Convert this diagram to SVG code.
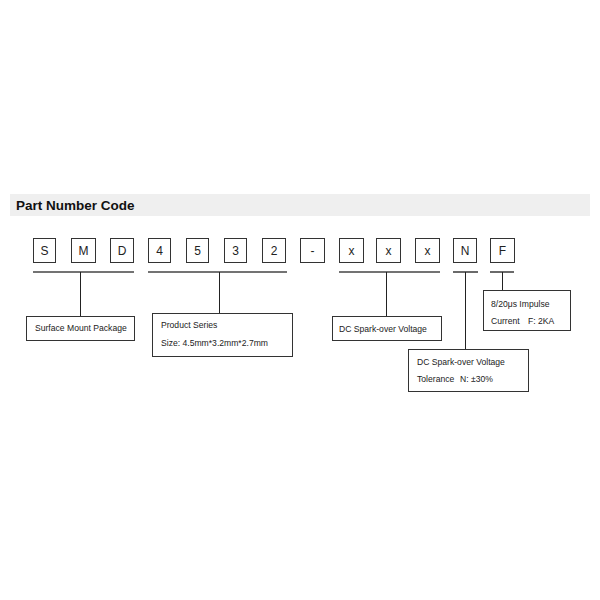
<svg xmlns="http://www.w3.org/2000/svg" width="600" height="600" viewBox="0 0 600 600">
<style>
.bx{fill:#fff;stroke:#333;stroke-width:1}
.ch{font-family:"Liberation Sans",Arial,sans-serif;font-size:12px;fill:#222;text-anchor:middle}
.t{font-family:"Liberation Sans",Arial,sans-serif;font-size:8.6px;fill:#222}
.ln{stroke:#444;stroke-width:1.6;fill:none}
.vl{stroke:#222;stroke-width:1;fill:none}
</style>
<rect x="0" y="0" width="600" height="600" fill="#fff"/>
<g id="header">
<rect x="10" y="194" width="580" height="22" fill="#efefef"/>
<text x="16" y="210" font-family="Liberation Sans,Arial,sans-serif" font-size="13.5" font-weight="bold" fill="#111">Part Number Code</text>
</g>
<g id="code">
<g id="c-S"><rect class="bx" x="33.5" y="238.5" width="22" height="24"/><text class="ch" x="44.5" y="255">S</text></g>
<g id="c-M"><rect class="bx" x="71.5" y="238.5" width="24" height="24"/><text class="ch" x="83.5" y="255">M</text></g>
<g id="c-D"><rect class="bx" x="110.5" y="238.5" width="23" height="24"/><text class="ch" x="122" y="255">D</text></g>
<g id="c-4"><rect class="bx" x="148.5" y="238.5" width="22" height="24"/><text class="ch" x="159.5" y="255">4</text></g>
<g id="c-5"><rect class="bx" x="186.5" y="238.5" width="22" height="24"/><text class="ch" x="197.5" y="255">5</text></g>
<g id="c-3"><rect class="bx" x="224.5" y="238.5" width="22" height="24"/><text class="ch" x="235.5" y="255">3</text></g>
<g id="c-2"><rect class="bx" x="262.5" y="238.5" width="23" height="24"/><text class="ch" x="274" y="255">2</text></g>
<g id="c-dash"><rect class="bx" x="300.5" y="238.5" width="24" height="24"/><text class="ch" x="312.5" y="255">-</text></g>
<g id="c-x1"><rect class="bx" x="339.5" y="238.5" width="24" height="24"/><text class="ch" x="351.5" y="255">x</text></g>
<g id="c-x2"><rect class="bx" x="376.5" y="238.5" width="24" height="24"/><text class="ch" x="388.5" y="255">x</text></g>
<g id="c-x3"><rect class="bx" x="415.5" y="238.5" width="24" height="24"/><text class="ch" x="427.5" y="255">x</text></g>
<g id="c-N"><rect class="bx" x="453.5" y="238.5" width="23" height="24"/><text class="ch" x="465" y="255">N</text></g>
<g id="c-F"><rect class="bx" x="490.5" y="238.5" width="24" height="24"/><text class="ch" x="502.5" y="255">F</text></g>
</g>
<g id="connectors">
<line class="ln" x1="33" y1="272" x2="134" y2="272"/>
<line class="ln" x1="148" y1="272" x2="287" y2="272"/>
<line class="ln" x1="339" y1="272" x2="440" y2="272"/>
<line class="ln" x1="453" y1="272" x2="478" y2="272"/>
<line class="ln" x1="490" y1="272" x2="514" y2="272"/>
<line class="vl" x1="80.5" y1="272" x2="80.5" y2="316"/>
<line class="vl" x1="219.5" y1="272" x2="219.5" y2="313"/>
<line class="vl" x1="386.5" y1="272" x2="386.5" y2="316"/>
<line class="vl" x1="465.5" y1="272" x2="465.5" y2="349"/>
<line class="vl" x1="502.5" y1="272" x2="502.5" y2="290"/>
</g>
<g id="n-package"><rect class="bx" x="26.5" y="316.5" width="108" height="24"/><text class="t" x="35" y="331">Surface Mount Package</text></g>
<g id="n-series"><rect class="bx" x="152.5" y="313.5" width="140" height="43"/><text class="t" x="161" y="328">Product Series</text><text class="t" x="161" y="346">Size: 4.5mm*3.2mm*2.7mm</text></g>
<g id="n-voltage"><rect class="bx" x="332.5" y="316.5" width="109" height="24"/><text class="t" x="339" y="332">DC Spark-over Voltage</text></g>
<g id="n-tolerance"><rect class="bx" x="408.5" y="349.5" width="120" height="42"/><text class="t" x="417" y="365">DC Spark-over Voltage</text><text class="t" x="417" y="382">Tolerance</text><text class="t" x="460" y="382">N: ±30%</text></g>
<g id="n-current"><rect class="bx" x="483.5" y="290.5" width="87" height="40"/><text class="t" x="491" y="307">8/20μs Impulse</text><text class="t" x="491" y="324">Current</text><text class="t" x="528" y="324">F: 2KA</text></g>
</svg>
